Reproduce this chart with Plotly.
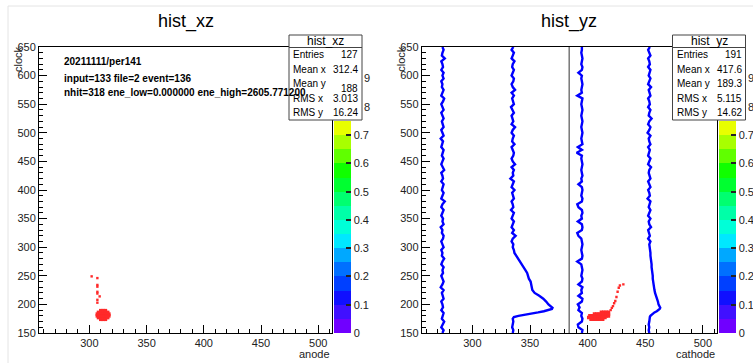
import plotly.graph_objects as go

W, H = 753, 363

# ---------------- data ----------------
titles = ["hist_xz", "hist_yz"]
x_titles = ["anode", "cathode"]
y_title = "clock"
info_lines = ["20211111/per141",
              "input=133 file=2 event=136",
              "nhit=318 ene_low=0.000000 ene_high=2605.771200"]
stats_labels = ["Entries", "Mean x", "Mean y", "RMS x", "RMS y"]
stats_xz = ["127", "312.4", "188", "3.013", "16.24"]
stats_yz = ["191", "417.6", "189.3", "5.115", "14.62"]
cbar_ticks = [0, 0.1, 0.2, 0.3, 0.4, 0.5, 0.6, 0.7]
cbar_text = ["0", "0.1", "0.2", "0.3", "0.4", "0.5", "0.6", "0.7"]
cbar_hidden_digits = ["9", "8"]          # last digits of 0.9 / 0.8 peeking out
cbar_hidden_vals = [0.9, 0.8]
cbar_max = 0.75
cbar_colors = ["#7000ff", "#4010ff", "#1010ff", "#0040ff", "#0070ff",
               "#00a8ff", "#00e8ff", "#00ffd8", "#00ffa8", "#00ff70",
               "#00ff30", "#10ff00", "#60ff00", "#a8ff00", "#e8ff00"]
x_range = [256, 512]
y_range = [150, 650]
channel_split = 384

# hist_xz hits (anode, clock)
xz_x = [310, 312, 314,
        308, 310, 312, 314, 316,
        307, 309, 311, 313, 315, 317,
        307, 309, 311, 313, 315, 317,
        308, 310, 312, 314, 316,
        310, 312, 314]
xz_y = [174, 174, 174,
        177, 177, 177, 177, 177,
        180, 180, 180, 180, 180, 180,
        183, 183, 183, 183, 183, 183,
        186, 186, 186, 186, 186,
        189, 189, 189]
xz_tail_x = [302, 307, 307, 307, 307, 307, 309, 307, 307]
xz_tail_y = [249, 246, 234, 231, 222, 219, 214, 208, 203]

# hist_yz hits (cathode, clock)
yz_x = [412, 414, 416, 418,
        406, 408, 410, 412, 414, 416, 418,
        402, 404, 406, 408, 410, 412, 414, 416, 418,
        401, 403, 405, 407, 409, 411, 413, 415,
        403, 405, 407, 409, 411, 413]
yz_y = [186, 186, 186, 186,
        183, 183, 183, 183, 183, 183, 183,
        180, 180, 180, 180, 180, 180, 180, 180, 180,
        177, 177, 177, 177, 177, 177, 177, 177,
        174, 174, 174, 174, 174, 174]
yz_tail_x = [420, 421, 422, 423, 424, 425, 426, 427, 428, 431]
yz_tail_y = [190, 194, 197, 202, 206, 213, 222, 229, 233, 235]

# waveforms (cathode channel traces vs clock)
clock = list(range(150, 651, 5))
wave1_base = 274
wave1_off = [0, 1, -1, 0, 1.5, -0.5, 0, 1, -1, 0.5,
             0, -1, 1, 0, -0.5, 1, -1.5, 0, 1, 0,
             -1, 0.5, 0, 1, -1, 0, 1.5, -0.5, 0, -1,
             1, 0, -1, 0.5, 1, -0.5, 0, -1.5, 1, 0,
             0.5, -1, 0, 1, -1, 0, 2, -1, 0, 1,
             -0.5, 0, 1, -1, 0.5, 0, -1, 1.5, 0, -1,
             0, 1, -0.5, 0, 1, -1, 0, 0.5, -1.5, 1,
             0, -1, 1, 0, -0.5, 1, 0, -1, 1, 0,
             -1, 0.5, 1.5, -1, 0, 1, -0.5, 0, -1, 1,
             0, 1, -1, 0.5, 0, -1, 2, -0.5, 0, 1,
             0]
wave3_base = 395
wave3_off = [0, 0.5, -3, -3.5, 0, 0.5, -0.5, 0, -3, -2,
             -3.5, 0, 0.5, -3, 0, -0.5, 0.5, -3, 0, 0.5,
             -0.5, 0, 0.5, 0, -0.5, -4, 0, 0.5, 0, -0.5,
             0, 0.5, 0, -0.5, -3, -4, 0, 0.5, 0, -3.5,
             0, -0.5, 0.5, 0, -3, -4, 0, 0.5, -0.5, 0,
             0.5, 0, -3, 0, -0.5, 0.5, 0, -0.5, 0, 0.5,
             0, -0.5, 0, -4.5, 0, -3.5, 0.5, 0, -0.5, 0,
             0.5, 0, -0.5, 0, 0.5, 0, -0.5, 0, 0.5, 0,
             -0.5, 0, 0.5, -4, 0, -0.5, 0, 0.5, 0, -0.5,
             0, -3, 0, 0.5, -0.5, 0, 0.5, 0, -0.5, 0,
             0]

pulse_clock = [150, 155, 160, 165, 170, 175,
               178, 180, 182, 184, 186, 188, 190, 192, 194, 196, 198, 200,
               205, 210, 215, 220, 225, 230, 235, 240, 245, 250,
               255, 260, 265, 270, 275, 280, 285, 290, 295, 300]
wave2_pulse = [335, 335.5, 334.5, 335, 335.5, 335,
               336, 340, 347, 352, 357, 362, 366, 369, 369.5, 368, 367, 366,
               364, 361.5, 358, 354, 352, 351.5, 350.5, 350.5, 349, 348.5,
               347.5, 346, 344.5, 343, 341, 339.5, 338, 336.5, 336, 335]
wave4_pulse = [453.5, 453, 453.5, 453, 453.5, 453.5,
               454, 454.5, 455.5, 456.5, 458, 460, 461.5, 462.5, 463, 462.5, 462, 461.5,
               461, 460, 459, 458.5, 458, 457.5, 457.5, 457, 456.5, 456.5,
               456, 456, 455.5, 455.5, 455, 455, 454.5, 454.5, 454, 454]
tail_clock = list(range(305, 651, 5))
wave2_base = 335
wave2_tail_off = [0.5, -1, 0, 2.5, -0.5, 1, -1, 0, 1, -1,
                  0, 1, -1.5, 0.5, 0, -1, 1, 0, -0.5, 1.5,
                  -1, 0, 1, -2, 0.5, 0, 1, -1, 2, 0,
                  -1, 0.5, 1, 0, -1, 1.5, -0.5, 0, 1, -1,
                  0, 2, -1, 0.5, 0, -1, 1, 0, -1.5, 1,
                  0, -0.5, 1, -1, 2, 0, -1, 0.5, 1, -1,
                  0, 1, -0.5, 0, 1.5, -1, 0, 1, -1, 0.5]
wave4_base = 453.5
wave4_tail_off = [0, 1, -1, 0.5, 0, -1, 1.5, 0, -0.5, 1,
                  -1, 0, 1, -0.5, 0, 1, -1.5, 0.5, 0, -1,
                  1, 0, -1, 1, 0.5, -0.5, 0, 1.5, -1, 0,
                  1, -1, 0, 0.5, -1, 1, 0, -0.5, 1, -1.5,
                  0, 1, -1, 0, 2, -0.5, 0, 1, -1, 0.5,
                  0, -1, 1, 0, -0.5, 1.5, -1, 0, 1, -0.5,
                  0, 1, -1, 0.5, 0, -1, 1, 0, -1, 0.5]

# ---------------- helpers (pixel -> paper) ----------------
def px(x):
    return x / W


def py(y):
    return 1 - y / H


FONT = "Liberation Sans, Arial, Helvetica, sans-serif"

# panel geometry in pixels
panels = [dict(x0=39, x1=332, cb=334, box=(289, 362), xs="x", ys="y"),
          dict(x0=421.7, x1=716.7, cb=718.7, box=(672.5, 745.5), xs="x2", ys="y2")]
PY0, PY1 = 333, 47

# discrete colorscale
n = len(cbar_colors)
cscale = []
for i, c in enumerate(cbar_colors):
    cscale.append([i / n, c])
    cscale.append([(i + 1) / n, c])

fig = go.Figure()

RED = "#ff2a2a"
BLUE = "#0000ff"

# hist_xz points
fig.add_trace(go.Scatter(x=xz_x, y=xz_y, mode="markers", xaxis="x", yaxis="y",
                         marker=dict(symbol="square", size=3.6, color=RED, line=dict(width=0))))
fig.add_trace(go.Scatter(x=xz_tail_x, y=xz_tail_y, mode="markers", xaxis="x", yaxis="y",
                         marker=dict(symbol="square", size=2.4, color=RED, line=dict(width=0))))

# hist_yz waveforms
w1 = [wave1_base + o for o in wave1_off]
w3 = [wave3_base + o for o in wave3_off]
w2 = wave2_pulse + [wave2_base + o for o in wave2_tail_off]
w4 = wave4_pulse + [wave4_base + o for o in wave4_tail_off]
pc = pulse_clock + tail_clock
for xs_, ys_ in [(w1, clock), (w2, pc), (w3, clock), (w4, pc)]:
    fig.add_trace(go.Scatter(x=xs_, y=ys_, mode="lines", xaxis="x2", yaxis="y2",
                             line=dict(color=BLUE, width=2.4)))

# hist_yz points
fig.add_trace(go.Scatter(x=yz_x, y=yz_y, mode="markers", xaxis="x2", yaxis="y2",
                         marker=dict(symbol="square", size=3.6, color=RED, line=dict(width=0))))
fig.add_trace(go.Scatter(x=yz_tail_x, y=yz_tail_y, mode="markers", xaxis="x2", yaxis="y2",
                         marker=dict(symbol="square", size=2.4, color=RED, line=dict(width=0))))

# colorbars (dummy traces outside the visible range)
cb_len = (cbar_max * (PY0 - 50)) / H
for p in panels:
    fig.add_trace(go.Scatter(
        x=[0], y=[0], mode="markers", xaxis=p["xs"], yaxis=p["ys"],
        marker=dict(color=[0], cmin=0, cmax=cbar_max, colorscale=cscale, showscale=True,
                    colorbar=dict(x=px(p["cb"]), xanchor="left", y=py(PY0), yanchor="bottom",
                                  len=cb_len, lenmode="fraction", thickness=17,
                                  thicknessmode="pixels", xpad=0, ypad=0,
                                  outlinewidth=0, ticks="inside", ticklen=5,
                                  tickcolor="#222", tickwidth=1.5,
                                  tickvals=cbar_ticks, ticktext=cbar_text,
                                  tickfont=dict(family=FONT, size=11, color="#222")))))

axis_common = dict(showgrid=False, zeroline=False, showline=True, linecolor="black",
                   linewidth=1, mirror=True, ticks="inside", ticklen=8, tickcolor="black",
                   tickwidth=1, tickfont=dict(family=FONT, size=11, color="#222"),
                   automargin=False,
                   minor=dict(ticks="inside", ticklen=4, dtick=10, tick0=0,
                              tickcolor="black", tickwidth=1))

layout = dict(width=W, height=H, margin=dict(l=0, r=0, t=0, b=0, autoexpand=False),
              paper_bgcolor="white", plot_bgcolor="white", showlegend=False,
              font=dict(family=FONT, color="black"))
for i, p in enumerate(panels):
    sfx = "" if i == 0 else "2"
    layout["xaxis" + sfx] = dict(axis_common, domain=[px(p["x0"]), px(p["x1"])],
                                 range=x_range, tickmode="linear", tick0=300, dtick=50,
                                 anchor="y" + sfx)
    layout["yaxis" + sfx] = dict(axis_common, domain=[py(PY0), py(PY1)],
                                 range=y_range, tickmode="linear", tick0=150, dtick=50,
                                 anchor="x" + sfx)
fig.update_layout(**layout)

shapes = []
annotations = []
# faint canvas border
shapes.append(dict(type="line", xref="paper", yref="paper", x0=px(8), x1=1, y0=py(6), y1=py(6),
                   line=dict(color="#e4e4e4", width=1)))
shapes.append(dict(type="line", xref="paper", yref="paper", x0=px(8), x1=px(8), y0=py(6), y1=0,
                   line=dict(color="#e4e4e4", width=1)))
# channel split line
shapes.append(dict(type="line", xref="x2", yref="y2", x0=channel_split, x1=channel_split,
                   y0=y_range[0], y1=y_range[1], line=dict(color="#777777", width=1.5)))

row_y = [54.8, 69.3, 83.5, 98.3, 112.6]
val_y = [54.8, 69.3, 88.0, 98.3, 112.6]
for i, p in enumerate(panels):
    cx = (p["x0"] + p["x1"]) / 2
    annotations.append(dict(text=titles[i], x=px(cx), y=py(22), xref="paper", yref="paper",
                            xanchor="center", yanchor="middle", showarrow=False,
                            font=dict(size=18, family=FONT, color="black")))
    annotations.append(dict(text=x_titles[i], x=px(p["x1"]), y=py(354), xref="paper",
                            yref="paper", xanchor="right", yanchor="middle", showarrow=False,
                            font=dict(size=11, family=FONT, color="#222")))
    annotations.append(dict(text=y_title, x=px(p["x0"] - 21), y=py(44), xref="paper",
                            yref="paper", xanchor="center", yanchor="top", textangle=-90,
                            showarrow=False, font=dict(size=11, family=FONT, color="#222")))
    bx0, bx1 = p["box"]
    shapes.append(dict(type="rect", xref="paper", yref="paper", x0=px(bx0), x1=px(bx1),
                       y0=py(120), y1=py(35), fillcolor="white",
                       line=dict(color="#444", width=1), layer="above"))
    shapes.append(dict(type="line", xref="paper", yref="paper", x0=px(bx0), x1=px(bx1),
                       y0=py(47.5), y1=py(47.5), line=dict(color="#444", width=1), layer="above"))
    annotations.append(dict(text=titles[i], x=px((bx0 + bx1) / 2), y=py(41.5), xref="paper",
                            yref="paper", xanchor="center", yanchor="middle", showarrow=False,
                            font=dict(size=12, family=FONT, color="black")))
    vals = stats_xz if i == 0 else stats_yz
    for j, lab in enumerate(stats_labels):
        annotations.append(dict(text=lab, x=px(bx0 + 2), y=py(row_y[j]), xref="paper",
                                yref="paper", xanchor="left", yanchor="middle", showarrow=False,
                                font=dict(size=10, family=FONT, color="black")))
        vy = val_y[j] if i == 0 else row_y[j]
        annotations.append(dict(text=vals[j], x=px(bx1 - 2), y=py(vy), xref="paper",
                                yref="paper", xanchor="right", yanchor="middle", showarrow=False,
                                font=dict(size=10, family=FONT, color="black")))
    for d, v in zip(cbar_hidden_digits, cbar_hidden_vals):
        yy = PY0 - v * (PY0 - 50)
        annotations.append(dict(text=d, x=px(bx1), y=py(yy), xref="paper", yref="paper",
                                xanchor="left", yanchor="middle", showarrow=False,
                                font=dict(size=11, family=FONT, color="#222")))

for k, (t, yy) in enumerate(zip(info_lines, [61.7, 78.7, 92.3])):
    annotations.append(dict(text="<b>%s</b>" % t, x=px(62), y=py(yy), xref="paper", yref="paper",
                            xanchor="left", yanchor="middle", showarrow=False,
                            font=dict(size=10, family=FONT, color="black")))

fig.update_layout(shapes=shapes, annotations=annotations)
fig.write_html("out.html", config={"displayModeBar": False},
               post_script="document.body.style.margin='0px';"
                           "document.body.style.overflow='hidden';")
